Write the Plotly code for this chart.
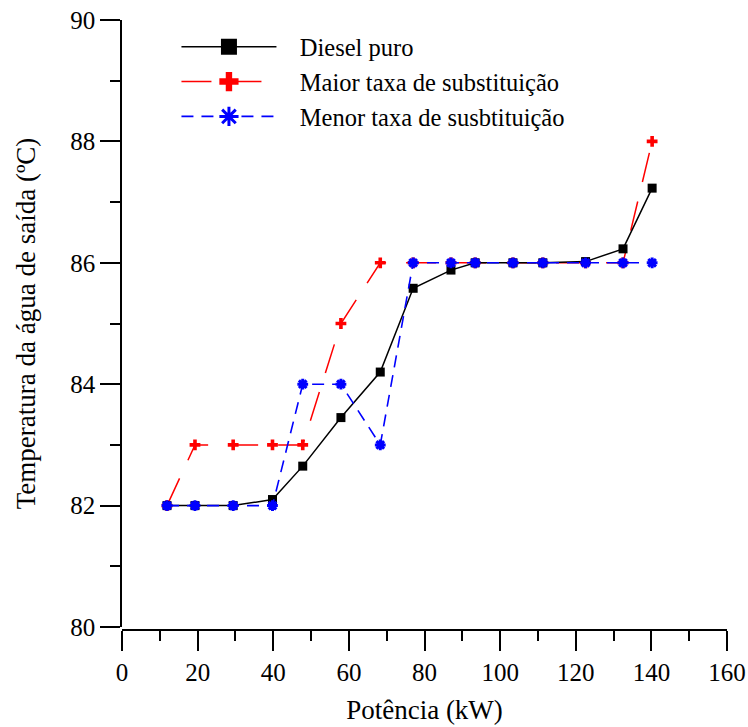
import plotly.graph_objects as go

# Data
potencia = [11.9, 19.3, 29.4, 39.8, 47.8, 57.9, 68.3, 77.0, 87.0, 93.4, 103.4, 111.3, 122.6, 132.5, 140.2]
diesel = [82.0, 82.0, 82.0, 82.1, 82.65, 83.45, 84.2, 85.58, 85.88, 86.0, 86.0, 86.0, 86.02, 86.23, 87.23]
maior = [82.0, 83.0, 83.0, 83.0, 83.0, 85.0, 86.0, 86.0, 86.0, 86.0, 86.0, 86.0, 86.0, 86.0, 88.0]
menor = [82.0, 82.0, 82.0, 82.0, 84.0, 84.0, 83.0, 86.0, 86.0, 86.0, 86.0, 86.0, 86.0, 86.0, 86.0]

names = ["Diesel puro", "Maior taxa de substituição", "Menor taxa de susbtituição"]
x_ticks = [0, 20, 40, 60, 80, 100, 120, 140, 160]
y_ticks = [80, 82, 84, 86, 88, 90]

FONT = "Liberation Serif, Times New Roman, serif"
GAP = "\u00a0" * 3

styles = [
    dict(line=dict(color="#000000", width=1.5),
         marker=dict(symbol="square", color="#000000", line=dict(width=0))),
    dict(line=dict(color="#ff0000", width=1.5, dash="30px,20px"),
         marker=dict(symbol="cross", color="#ff0000", line=dict(width=0))),
    dict(line=dict(color="#0000ff", width=1.6, dash="12px,8px"),
         marker=dict(symbol="asterisk-open", color="#0000ff", line=dict(width=3, color="#0000ff"))),
]
sizes = [9, 9, 9]
series = [diesel, maior, menor]
draw_order = [1, 0, 2]

fig = go.Figure()

for i in draw_order:
    st = styles[i]
    fig.add_trace(go.Scatter(
        x=potencia, y=series[i], name=names[i], mode="lines+markers",
        line=st["line"], marker=dict(st["marker"], size=sizes[i]),
        showlegend=False,
    ))

# legend entries (no data, larger symbols)
for i in range(3):
    st = styles[i]
    fig.add_trace(go.Scatter(
        x=[None], y=[None], name=GAP + names[i], mode="lines+markers",
        line=st["line"], marker=dict(st["marker"], size=16),
        showlegend=True, legendrank=i + 1,
    ))

fig.update_layout(
    width=748, height=727,
    margin=dict(l=122, r=21, t=20, b=97, autoexpand=False),
    paper_bgcolor="white", plot_bgcolor="white",
    font=dict(family=FONT, size=24, color="black"),
    legend=dict(
        x=0.09, y=0.993, xanchor="left", yanchor="top",
        bgcolor="rgba(0,0,0,0)", borderwidth=0,
        font=dict(family=FONT, size=24.5, color="black"),
        itemwidth=95, tracegroupgap=0,
    ),
    xaxis=dict(
        range=[0, 160], tickvals=x_ticks, ticktext=[str(v) for v in x_ticks],
        showgrid=False, zeroline=False, showline=True, linecolor="black", linewidth=1.5,
        ticks="outside", ticklen=20, tickwidth=1.5, tickcolor="black",
        minor=dict(dtick=10, tick0=0, ticks="outside", ticklen=10, tickwidth=1.5, tickcolor="black"),
        anchor="free", position=0, automargin=False,
        title=dict(text="Potência (kW)", font=dict(family=FONT, size=27), standoff=14),
        tickfont=dict(family=FONT, size=25),
    ),
    yaxis=dict(
        range=[80, 90], tickvals=y_ticks, ticktext=[str(v) for v in y_ticks],
        domain=[3 / 610, 1], automargin=False,
        showgrid=False, zeroline=False, showline=True, linecolor="black", linewidth=1.5,
        ticks="outside", ticklen=20, tickwidth=1.5, tickcolor="black",
        minor=dict(dtick=1, tick0=80, ticks="outside", ticklen=10, tickwidth=1.5, tickcolor="black"),
        title=dict(text="Temperatura da água de saída (ºC)", font=dict(family=FONT, size=27), standoff=27),
        tickfont=dict(family=FONT, size=25),
    ),
)

fig.write_html("out.html")
